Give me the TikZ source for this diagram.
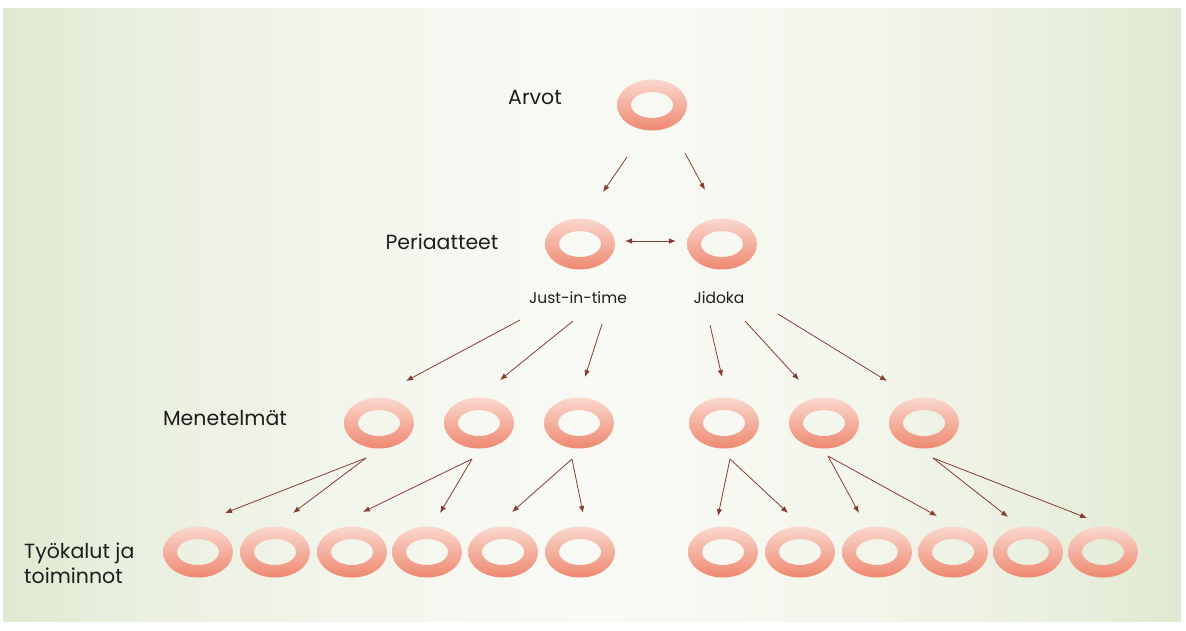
\documentclass[tikz,border=0pt]{standalone}
\usepackage{fontspec}
\setmainfont{Poppins}
\usetikzlibrary{shapes.geometric,arrows.meta,calc}

\definecolor{ringtop}{RGB}{250,216,206}
\definecolor{ringbot}{RGB}{238,136,112}
\definecolor{linkcol}{RGB}{135,62,48}
\definecolor{labelcol}{RGB}{30,30,30}

% pale green at the sides, nearly white across the middle
% (TikZ maps the 25bp..75bp band onto the filled path)
\pgfdeclarehorizontalshading{panelshade}{100bp}{
  rgb(0bp)=(0.878,0.914,0.820);
  rgb(25bp)=(0.878,0.914,0.820);
  rgb(31bp)=(0.918,0.941,0.878);
  rgb(41bp)=(0.957,0.965,0.933);
  rgb(50bp)=(0.976,0.980,0.961);
  rgb(59bp)=(0.961,0.969,0.937);
  rgb(69bp)=(0.918,0.941,0.878);
  rgb(75bp)=(0.882,0.914,0.820);
  rgb(100bp)=(0.882,0.914,0.820)}

\tikzset{
  ringnode/.style={ellipse, minimum width=70pt, minimum height=50pt, inner sep=0pt},
  ringfill/.style={top color=ringtop, bottom color=ringbot, even odd rule},
  lbl/.style={font=\fontsize{20.5}{25}\selectfont, text=labelcol, inner sep=0pt},
  sublbl/.style={font=\fontsize{15.5}{18}\selectfont, text=labelcol, inner sep=0pt},
  arr/.style={draw=linkcol, line width=0.8pt, -{Latex[length=7pt,width=5.5pt]}},
  dblarr/.style={draw=linkcol, line width=0.8pt, {Latex[length=7pt,width=5.5pt]}-{Latex[length=7pt,width=5.5pt]}},
}

% a ring: named node plus a shaded annulus around its centre
\newcommand{\mkring}[2]{%
  \node[ringnode] (#1) at (#2) {};
  \shade[ringfill] (#1.center) ellipse (35pt and 25.5pt) (#1.center) ellipse (21pt and 13pt);
}

\begin{document}
\begin{tikzpicture}[x=1pt, y=-1pt]
  \useasboundingbox (0,0) rectangle (1186,630);
  \fill[white] (0,0) rectangle (1186,630);
  \shade[shading=panelshade] (3,8) rectangle (1181,621);

  % rings, top to bottom
  \mkring{a}{652,105}
  \mkring{p1}{580,244}
  \mkring{p2}{722,244}
  \mkring{m1}{379,423}
  \mkring{m2}{479,423}
  \mkring{m3}{579,423}
  \mkring{m4}{724,423}
  \mkring{m5}{824,423}
  \mkring{m6}{924,423}
  \mkring{t1}{198,552}
  \mkring{t2}{275,552}
  \mkring{t3}{352,552}
  \mkring{t4}{427,552}
  \mkring{t5}{503,552}
  \mkring{t6}{580,552}
  \mkring{t7}{723,552}
  \mkring{t8}{800,552}
  \mkring{t9}{877,552}
  \mkring{t10}{953,552}
  \mkring{t11}{1028,552}
  \mkring{t12}{1103,552}

  % labels
  \node[lbl] (arvot) at (535,97) {Arvot};
  \node[lbl] (periaatteet) at (442,242) {Periaatteet};
  \node[sublbl] (jit) at (578,298) {Just-in-time};
  \node[sublbl] (jid) at (719,298) {Jidoka};
  \node[lbl] (menetelmat) at (225,418) {Menetelmät};
  \node[lbl, anchor=west, align=left] (tyokalut) at (24,563) {Työkalut ja\\toiminnot};

  % values to principles
  \draw[arr] ($(a)+(-25,52)$) -- ($(p1)+(23,-52)$);
  \draw[arr] ($(a)+(33,48)$) -- ($(p2)+(-17,-54)$);
  \draw[dblarr] ($(p1)+(45,-3)$) -- ($(p2)+(-46,-3)$);

  % principles to methods
  \draw[arr] ($(jit)+(-58,22)$) -- ($(m1)+(27,-42)$);
  \draw[arr] ($(jit)+(-5,23)$) -- ($(m2)+(21,-43)$);
  \draw[arr] ($(jit)+(24,26)$) -- ($(m3)+(6,-46)$);
  \draw[arr] ($(jid)+(-9,27)$) -- ($(m4)+(-2,-46)$);
  \draw[arr] ($(jid)+(26,23)$) -- ($(m5)+(-25,-43)$);
  \draw[arr] ($(jid)+(59,16)$) -- ($(m6)+(-37,-42)$);

  % methods to tools
  \draw[arr] ($(m1)+(-13,35)$) -- ($(t1)+(27,-39)$);
  \draw[arr] ($(m1)+(-13,35)$) -- ($(t2)+(18,-39)$);
  \draw[arr] ($(m2)+(-7,36)$) -- ($(t3)+(11,-40)$);
  \draw[arr] ($(m2)+(-7,36)$) -- ($(t4)+(13,-39)$);
  \draw[arr] ($(m3)+(-7,36)$) -- ($(t5)+(9,-40)$);
  \draw[arr] ($(m3)+(-7,36)$) -- ($(t6)+(3,-39)$);
  \draw[arr] ($(m4)+(6,36)$) -- ($(t7)+(-5,-36)$);
  \draw[arr] ($(m4)+(6,36)$) -- ($(t8)+(-12,-39)$);
  \draw[arr] ($(m5)+(4,33)$) -- ($(t9)+(-18,-39)$);
  \draw[arr] ($(m5)+(4,33)$) -- ($(t10)+(-16,-36)$);
  \draw[arr] ($(m6)+(9,35)$) -- ($(t11)+(-20,-35)$);
  \draw[arr] ($(m6)+(9,35)$) -- ($(t12)+(-16,-34)$);
\end{tikzpicture}
\end{document}
